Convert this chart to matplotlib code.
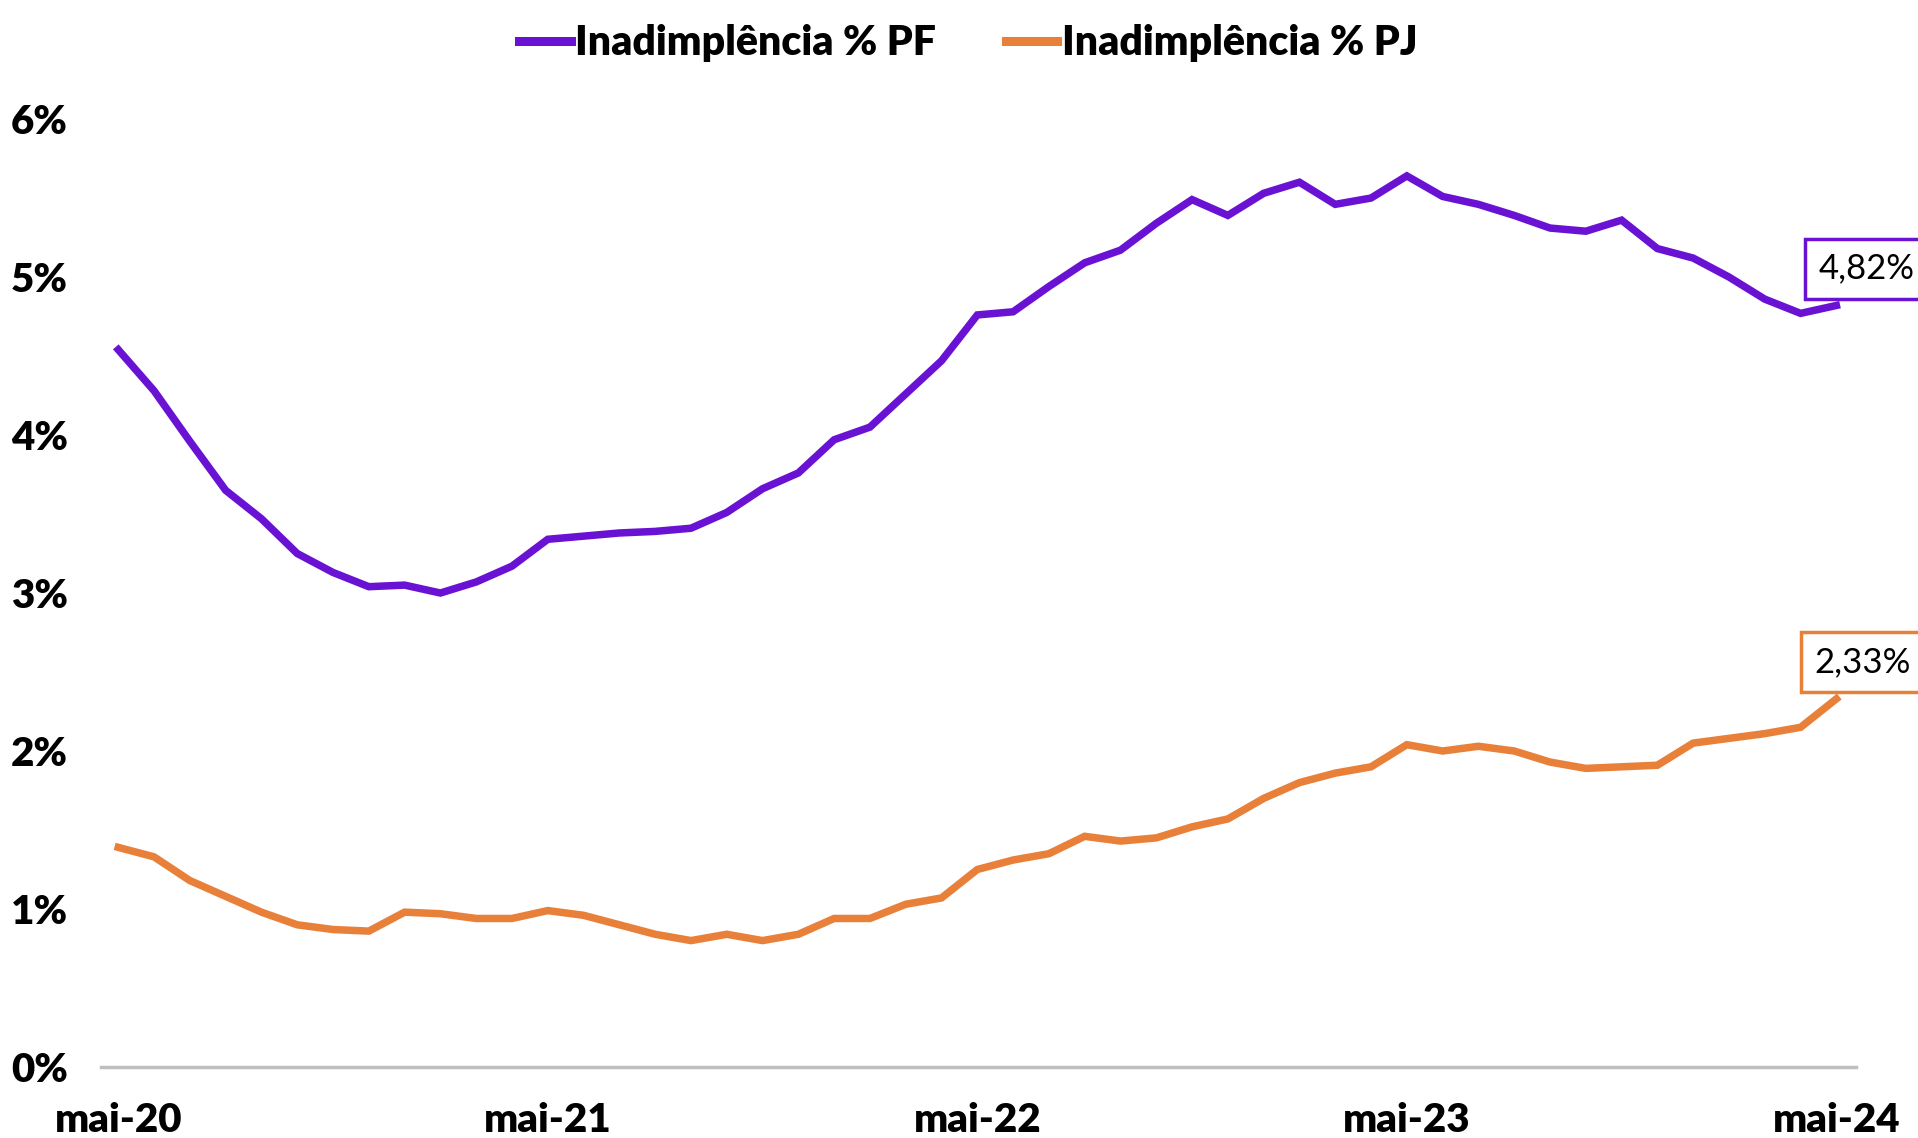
import matplotlib
matplotlib.use("Agg")
import matplotlib.pyplot as plt

months = ["mai-20","jun-20","jul-20","ago-20","set-20","out-20","nov-20","dez-20",
          "jan-21","fev-21","mar-21","abr-21","mai-21","jun-21","jul-21","ago-21",
          "set-21","out-21","nov-21","dez-21","jan-22","fev-22","mar-22","abr-22",
          "mai-22","jun-22","jul-22","ago-22","set-22","out-22","nov-22","dez-22",
          "jan-23","fev-23","mar-23","abr-23","mai-23","jun-23","jul-23","ago-23",
          "set-23","out-23","nov-23","dez-23","jan-24","fev-24","mar-24","abr-24","mai-24"]

pf = [4.54, 4.28, 3.96, 3.65, 3.47, 3.25, 3.13, 3.04, 3.05, 3.00, 3.07, 3.17,
      3.34, 3.36, 3.38, 3.39, 3.41, 3.51, 3.66, 3.76, 3.97, 4.05, 4.26, 4.47,
      4.76, 4.78, 4.94, 5.09, 5.17, 5.34, 5.49, 5.39, 5.53, 5.60, 5.46, 5.50,
      5.64, 5.51, 5.46, 5.39, 5.31, 5.29, 5.36, 5.18, 5.12, 5.00, 4.86, 4.77, 4.82]

pj = [1.39, 1.33, 1.18, 1.08, 0.98, 0.90, 0.87, 0.86, 0.98, 0.97, 0.94, 0.94,
      0.99, 0.96, 0.90, 0.84, 0.80, 0.84, 0.80, 0.84, 0.94, 0.94, 1.03, 1.07,
      1.25, 1.31, 1.35, 1.46, 1.43, 1.45, 1.52, 1.57, 1.70, 1.80, 1.86, 1.90,
      2.04, 2.00, 2.03, 2.00, 1.93, 1.89, 1.90, 1.91, 2.05, 2.08, 2.11, 2.15, 2.33]

yticks = [0, 1, 2, 3, 4, 5, 6]
ytick_labels = ["0%", "1%", "2%", "3%", "4%", "5%", "6%"]
xtick_labels = ["mai-20", "mai-21", "mai-22", "mai-23", "mai-24"]
series_names = ["Inadimplência % PF", "Inadimplência % PJ"]
last_labels = ["4,82%", "2,33%"]

PURPLE = "#6A12D4"
ORANGE = "#E8803A"

fig = plt.figure(figsize=(19.18, 11.38), dpi=100)
ax = fig.add_axes([0.0527, 0.0624, 0.9150, 0.8330])

x = list(range(len(months)))
l1, = ax.plot(x, pf, color=PURPLE, lw=5.4, solid_joinstyle="miter", label=series_names[0], zorder=3)
l2, = ax.plot(x, pj, color=ORANGE, lw=5.4, solid_joinstyle="miter", label=series_names[1], zorder=3)

ax.set_xlim(-0.48, 48.55)
ax.set_ylim(0, 6)
ax.set_yticks(yticks)
ax.set_yticklabels(ytick_labels)
xt = [months.index(m) for m in xtick_labels]
ax.set_xticks(xt)
ax.set_xticklabels(xtick_labels)

for s in ["top", "right", "left"]:
    ax.spines[s].set_visible(False)
ax.spines["bottom"].set_color("#BFBFBF")
ax.spines["bottom"].set_linewidth(2.5)
ax.tick_params(axis="both", length=0)
ax.tick_params(axis="y", pad=24)
ax.tick_params(axis="x", pad=25)
for lab in ax.get_yticklabels() + ax.get_xticklabels():
    lab.set_fontfamily("Lato")
    lab.set_fontweight("heavy")
    lab.set_fontsize(29)
    lab.set_color("black")

leg = fig.legend(handles=[l1, l2], loc="center", bbox_to_anchor=(0.505, 0.962),
                 ncol=2, frameon=False, handlelength=1.25, handletextpad=0.12,
                 columnspacing=1.7, prop={"family": "Lato", "weight": "heavy", "size": 29.5})
for h in leg.get_lines():
    h.set_linewidth(6.5)

for vals, col, txt, dx in [(pf, PURPLE, last_labels[0], 22), (pj, ORANGE, last_labels[1], 19)]:
    ax.annotate(txt, xy=(48, vals[-1]), xytext=(dx, 15), textcoords="offset points",
                ha="center", va="bottom", fontsize=25, fontfamily="Lato",
                fontweight="normal", color="black", annotation_clip=False, zorder=2,
                bbox=dict(boxstyle="square,pad=0.4", fc="white", ec=col, lw=2.5))

fig.savefig("out.png", dpi=100, facecolor="white")
